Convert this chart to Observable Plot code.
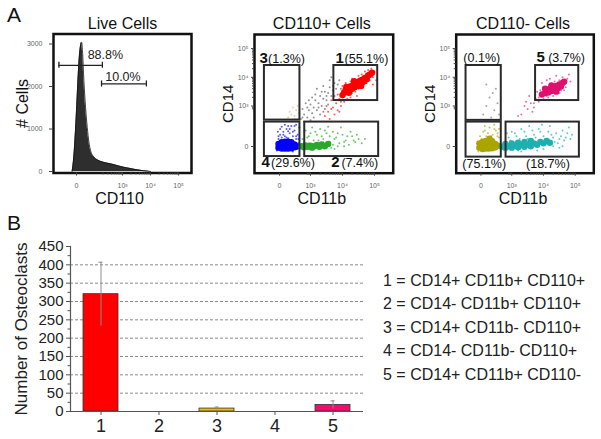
<!DOCTYPE html>
<html><head><meta charset="utf-8">
<script src="https://cdn.jsdelivr.net/npm/d3@7"></script>
<script src="https://cdn.jsdelivr.net/npm/@observablehq/plot@0.6"></script>
<style>
body{margin:0;background:#fff;}
#root{position:relative;width:601px;height:439px;overflow:hidden;background:#fff;font-family:"Liberation Sans",Arial,sans-serif;color:#222;}
#root > *{position:absolute;}
.plabel{font-size:21px;line-height:21px;color:#111;}
.legend{font-size:16px;line-height:23.5px;color:#222;white-space:nowrap;}
</style></head><body><div id="root"></div>
<script>
// ---------------- DATA ----------------
// Panel A, live cells: CD110 histogram [CD110 (display decades), # cells]
const histCD110 = [
 [1.20,0],[1.26,340],[1.32,960],[1.38,1750],[1.44,2530],[1.50,2960],[1.54,3040],[1.57,2840],
 [1.62,2140],[1.68,1510],[1.74,1040],[1.80,690],[1.86,490],[1.98,340],[2.10,275],[2.21,240],
 [2.39,205],[2.57,180],[2.81,140],[3.05,100],[3.29,70],[3.52,40],[3.76,16],[4.0,0]
];
const histGates = [
 {label:"88.8%", x1:0.73, x2:2.28, y:2500},
 {label:"10.0%", x1:2.25, x2:3.85, y:2060}
];
const histXTicks = [1.357, 3, 4, 5];
const histYTicks = [0, 1000, 2000, 3000];
const flowXTicks = [2.03, 3, 4, 5];
const flowYTicks = [1.59, 3, 4, 5];
const flowTickLabels = ["0", "10³", "10⁴", "10⁵"];

// CD110+ cells: [CD11b, CD14] in display decades
const posRedCore = [[4.05,3.47],[4.1,3.56],[4.15,3.5],[4.2,3.6],[4.25,3.68],[4.3,3.6],[4.32,3.72],[4.38,3.65],[4.4,3.78],[4.45,3.7],[4.48,3.84],[4.52,3.76],[4.55,3.88],[4.6,3.8],[4.62,3.92],[4.68,3.86],[4.7,3.98],[4.76,3.94],[4.8,4.06],[4.86,4.1],[4.92,4.16],[4.2,3.46],[4.36,3.86],[4.58,3.7],[4.0,3.38],[4.12,3.66]];
const posRedSparse = [[3.45,2.65],[3.55,2.8],[3.6,2.55],[3.7,2.95],[3.75,2.7],[3.8,3.1],[3.85,2.85],[3.9,3.25],[3.95,3.0],[4.0,3.3],[4.05,3.15],[4.1,3.4],[4.15,3.25],[4.2,3.38],[4.3,3.45],[4.4,3.5],[4.5,3.6],[4.6,3.65],[4.75,3.8],[4.85,3.9],[4.95,4.0],[5.0,4.2],[4.9,4.3],[4.7,4.2],[4.5,4.05],[4.3,3.95],[4.1,3.8],[3.95,3.6],[3.85,3.4],[3.65,3.2],[3.5,3.0],[4.0,3.7],[4.25,3.85],[4.6,4.1],[4.8,4.25],[5.05,3.9],[4.95,3.75],[4.45,3.35],[3.9,2.8],[3.75,3.35],[4.2,3.75],[4.35,3.55],[4.65,3.75],[4.8,3.95],[4.9,4.05],[4.55,3.95],[4.25,3.3],[3.95,3.15],[4.05,3.5],[3.65,2.9]];
const posGray = [[2.7,2.55],[2.8,2.7],[2.75,2.9],[2.9,2.6],[2.95,2.85],[3.0,3.05],[3.05,2.75],[3.1,2.95],[3.15,3.2],[3.2,2.85],[3.25,3.1],[3.3,3.35],[3.35,3.0],[3.4,3.25],[3.45,3.5],[3.5,3.2],[3.55,3.45],[3.6,3.65],[3.65,3.35],[3.7,3.55],[3.75,3.8],[3.8,3.6],[3.3,2.7],[3.0,2.5],[2.85,3.1],[3.15,3.4],[3.4,3.7],[3.6,3.9],[2.65,2.75],[3.45,2.9],[3.9,3.9],[3.05,3.3],[2.75,2.6],[2.9,2.95],[3.1,2.6],[3.25,2.95],[3.35,3.5],[3.5,3.35],[3.55,3.05],[3.7,3.7],[3.85,3.75],[2.95,3.2],[3.2,3.6],[3.65,4.0],[2.8,2.45],[3.4,2.8]];
const posTan = [[2.3,2.6],[2.4,2.7],[2.5,2.65],[2.55,2.85],[2.45,2.95],[2.6,2.55],[2.35,2.8],[2.6,3.0],[2.5,2.55],[2.65,2.7]];
const posBlueCore = [[2.0,1.55],[2.0,1.68],[2.1,1.52],[2.1,1.62],[2.1,1.74],[2.2,1.52],[2.2,1.63],[2.2,1.76],[2.3,1.52],[2.3,1.63],[2.3,1.76],[2.4,1.53],[2.4,1.64],[2.4,1.74],[2.5,1.56],[2.5,1.66],[2.56,1.6]];
const posBlueSparse = [[2.0,1.85],[2.05,2.0],[2.1,1.9],[2.15,2.1],[2.2,1.95],[2.25,2.2],[2.3,1.88],[2.35,2.05],[2.4,2.3],[2.45,1.95],[2.5,2.15],[2.55,1.85],[2.6,2.0],[2.62,1.7],[2.65,2.25],[1.95,1.45],[2.45,1.42],[2.2,2.35],[2.1,2.28],[2.3,2.12],[1.98,2.1],[2.55,2.35],[2.6,1.5],[2.0,1.95],[2.15,2.0],[2.25,1.9],[2.35,2.2],[2.45,2.1],[2.55,1.95],[2.05,2.2],[2.5,2.3],[2.62,1.85],[2.3,2.3]];
const posGreenCore = [[2.72,1.6],[2.8,1.56],[2.85,1.63],[2.92,1.58],[3.0,1.62],[3.05,1.55],[3.12,1.6],[3.2,1.64],[3.28,1.58],[3.35,1.66],[3.45,1.6],[3.55,1.68]];
const posGreenSparse = [[2.8,1.75],[2.9,1.9],[3.0,2.05],[3.1,1.8],[3.2,2.0],[3.3,2.2],[3.4,1.85],[3.5,2.05],[3.6,1.75],[3.7,2.1],[3.8,1.9],[3.9,1.7],[4.0,2.0],[4.1,1.8],[4.2,1.65],[4.3,1.95],[4.4,1.75],[4.5,1.85],[3.65,1.55],[3.85,1.6],[3.25,1.8],[3.05,2.25],[3.55,2.28],[3.95,2.25],[4.25,2.1],[3.75,1.5],[4.6,1.7],[2.95,1.7],[2.75,1.85],[2.85,2.15],[2.95,1.95],[3.15,2.1],[3.35,1.95],[3.45,2.15],[3.6,1.95],[3.75,1.85],[3.85,2.05],[4.05,1.75],[4.15,1.95],[4.35,1.8],[4.45,2.0],[3.15,1.7],[3.4,1.72],[3.7,1.65],[4.05,1.6],[4.7,1.85]];
const posGates = [
 {id:"1", pct:"(55.1%)", x1:3.73, x2:5.10, y1:3.19, y2:4.41},
 {id:"2", pct:"(7.4%)",  x1:2.82, x2:5.13, y1:1.24, y2:2.44},
 {id:"3", pct:"(1.3%)",  x1:1.56, x2:2.67, y1:2.51, y2:4.41},
 {id:"4", pct:"(29.6%)", x1:1.56, x2:2.67, y1:1.24, y2:2.44}
];

// CD110- cells
const negMagentaCore = [[3.95,3.4],[4.05,3.45],[4.1,3.55],[4.15,3.47],[4.2,3.6],[4.25,3.52],[4.3,3.65],[4.35,3.57],[4.4,3.7],[4.45,3.62],[4.5,3.75],[4.55,3.68],[4.6,3.8],[4.25,3.72],[4.4,3.5],[4.05,3.6],[4.65,3.85]];
const negMagentaSparse = [[3.5,2.9],[3.6,3.1],[3.7,2.95],[3.75,3.25],[3.85,3.15],[3.9,3.55],[3.95,3.8],[4.0,3.25],[4.1,3.9],[4.2,3.95],[4.3,3.35],[4.4,4.05],[4.5,3.45],[4.6,4.0],[4.7,3.65],[4.75,3.95],[4.8,4.1],[4.65,3.55],[3.8,3.5],[4.15,3.3],[3.3,2.7],[3.4,3.0],[3.2,2.65],[3.55,3.35],[3.65,2.8],[4.85,3.85],[3.45,3.15],[4.0,3.65],[4.2,3.75],[4.35,3.85],[4.5,3.9],[4.7,3.8],[4.1,3.35],[4.3,3.45],[4.55,3.55],[3.85,3.3],[3.7,3.1]];
const negGray = [[2.1,2.7],[2.2,3.0],[2.3,3.3],[2.45,2.85],[2.5,3.6],[2.35,2.6],[2.55,3.1],[2.2,3.75],[2.6,2.7],[2.4,3.45]];
const negOliveCore = [[1.98,1.55],[1.98,1.7],[2.08,1.5],[2.08,1.62],[2.08,1.75],[2.18,1.52],[2.18,1.64],[2.18,1.78],[2.28,1.52],[2.28,1.65],[2.28,1.78],[2.38,1.53],[2.38,1.65],[2.38,1.77],[2.48,1.56],[2.48,1.68],[2.56,1.62],[2.3,1.86]];
const negOliveSparse = [[2.0,1.95],[2.1,2.1],[2.2,1.95],[2.3,2.25],[2.4,2.0],[2.5,2.15],[2.6,1.9],[2.15,2.3],[2.45,2.35],[1.95,1.42],[2.55,2.05],[2.05,1.85],[2.25,2.05],[2.35,1.95],[2.45,2.2],[2.55,1.95],[2.15,2.15],[2.6,2.2]];
const negTealCore = [[2.7,1.58],[2.8,1.55],[2.8,1.68],[2.9,1.6],[3.0,1.55],[3.0,1.7],[3.1,1.62],[3.2,1.56],[3.2,1.72],[3.3,1.64],[3.4,1.58],[3.4,1.75],[3.5,1.66],[3.6,1.6],[3.6,1.78],[3.7,1.7],[3.8,1.65],[3.9,1.75],[4.0,1.7],[4.1,1.78],[4.2,1.72]];
const negTealSparse = [[2.9,1.9],[3.0,2.1],[3.15,1.95],[3.3,2.2],[3.45,1.95],[3.55,2.3],[3.7,2.0],[3.85,2.2],[4.0,1.95],[4.15,2.1],[4.3,1.9],[4.4,2.05],[4.5,1.85],[4.6,2.15],[4.7,1.9],[4.8,2.25],[4.3,1.6],[4.45,1.7],[3.8,1.45],[3.3,1.42],[4.6,1.6],[4.9,2.0],[3.95,2.35],[2.85,2.05],[4.2,2.3],[2.95,1.8],[3.1,2.05],[3.25,1.85],[3.4,2.1],[3.5,1.85],[3.65,2.15],[3.75,1.9],[3.9,2.1],[4.05,1.85],[4.25,2.0],[4.35,1.75],[4.55,1.95],[4.65,1.8],[4.75,2.05],[4.85,1.85],[3.2,1.45],[4.0,1.5],[4.5,1.55]];
const negGates = [
 {id:"",  pct:"(0.1%)",  x1:1.56, x2:2.67, y1:2.50, y2:4.41},
 {id:"5", pct:"(3.7%)",  x1:3.75, x2:5.11, y1:3.19, y2:4.41},
 {id:"",  pct:"(75.1%)", x1:1.56, x2:2.67, y1:1.22, y2:2.44},
 {id:"",  pct:"(18.7%)", x1:2.82, x2:5.13, y1:1.22, y2:2.44}
];

// Panel B
const groups = ["1", "2", "3", "4", "5"];
const osteoclastMean = [320, 0, 8, 0, 18];
const osteoclastErr = [87, 0, 4, 0, 11];
const yMajorTicks = [0, 50, 100, 150, 200, 250, 300, 350, 400, 450];
const yGridTicks = [50, 100, 150, 200, 250, 300, 350, 400];
const legendLines = [
 "1 = CD14+ CD11b+ CD110+",
 "2 = CD14- CD11b+ CD110+",
 "3 = CD14+ CD11b- CD110+",
 "4 = CD14- CD11b- CD110+",
 "5 = CD14+ CD11b+ CD110-"
];

// ---------------- STYLES ----------------
const FONT = "Liberation Sans, Arial, sans-serif";
const barColors = ["#ff0000", "#ff0000", "#f2bd00", "#ff0000", "#ff0a6c"];
const root = document.getElementById("root");
function place(el, left, top) { el.style.left = left + "px"; el.style.top = top + "px"; root.appendChild(el); }
const baseStyle = {fontFamily: FONT, background: "transparent", overflow: "visible", color: "#222"};
const minorDecades = [];
[2, 3, 4].forEach(d => [2,3,4,5,6,7,8,9].forEach(k => minorDecades.push(d + Math.log10(k))));
const lab = (ticks, labels) => d => labels[ticks.indexOf(d)];

// ---------------- HISTOGRAM ----------------
const hist = Plot.plot({
  width: 200, height: 210, marginLeft: 53, marginRight: 9, marginTop: 33.5, marginBottom: 37.5,
  x: {domain: [0.536, 5.46], label: null},
  y: {domain: [-35, 3236], label: null},
  style: baseStyle,
  marks: [
    Plot.areaY(histCD110, {x: d => d[0], y: d => d[1], fill: "#2e2e2e", curve: "monotone-x"}),
    Plot.lineY(histCD110, {x: d => d[0], y: d => d[1], stroke: "#111", strokeWidth: 0.8, curve: "monotone-x"}),
    Plot.ruleY(histGates, {y: "y", x1: "x1", x2: "x2", stroke: "#222", strokeWidth: 1.3}),
    Plot.ruleX(histGates, {x: "x1", y1: "y", y2: "y", insetTop: -3, insetBottom: -3, stroke: "#222", strokeWidth: 1.3}),
    Plot.ruleX(histGates, {x: "x2", y1: "y", y2: "y", insetTop: -3, insetBottom: -3, stroke: "#222", strokeWidth: 1.3}),
    Plot.text(histGates.slice(0, 1), {x: "x2", y: "y", text: "label", dx: 3, dy: -6, lineAnchor: "bottom", fontSize: 12.5, fill: "#222"}),
    Plot.text(histGates.slice(1), {x: d => (d.x1 + d.x2) / 2, y: "y", text: "label", dx: -1, dy: -2.6, lineAnchor: "bottom", fontSize: 12.5, fill: "#222"}),
    Plot.frame({stroke: "#111", strokeWidth: 2.5}),
    Plot.axisX({ticks: histXTicks, tickFormat: lab(histXTicks, flowTickLabels), tickSize: 3, tickPadding: 7.5, fontSize: 7, fill: "#666", stroke: "#444", label: null}),
    Plot.axisX({ticks: minorDecades.map(d => d), tickFormat: () => "", tickSize: 2, stroke: "#444", label: null}),
    Plot.axisY({ticks: histYTicks, tickFormat: d => String(d), tickSize: 4, tickPadding: 7, fontSize: 7, fill: "#666", stroke: "#444", label: null}),
    Plot.text(["Live Cells"], {text: d => d, frameAnchor: "top", dy: -5, lineAnchor: "bottom", fontSize: 16, fill: "#111"}),
    Plot.text(["CD110"], {text: d => d, frameAnchor: "bottom", dx: -3, dy: 30.5, lineAnchor: "bottom", fontSize: 16, fill: "#111"}),
    Plot.text(["# Cells"], {text: d => d, frameAnchor: "left", dx: -30.5, rotate: -90, textAnchor: "middle", lineAnchor: "middle", fontSize: 16, fill: "#111"})
  ]
});
place(hist, 0, 0);

// ---------------- FLOW DOT PLOTS ----------------
function flowPlot(cfg) {
  const marks = [];
  cfg.sparse.forEach(p => marks.push(Plot.dot(p.data, {x: d => d[0], y: d => d[1], r: 1.0, fill: p.color, fillOpacity: 0.75})));
  cfg.core.forEach(p => marks.push(Plot.dot(p.data, {x: d => d[0], y: d => d[1], r: 3.2, fill: p.color})));
  marks.push(
    Plot.rect(cfg.gates, {x1: "x1", x2: "x2", y1: "y1", y2: "y2", fill: "none", stroke: "#2a2a2a", strokeWidth: 2}),
    Plot.frame({stroke: "#111", strokeWidth: 2.5}),
    Plot.axisX({ticks: flowXTicks, tickFormat: lab(flowXTicks, flowTickLabels), tickSize: 3, tickPadding: 7, fontSize: 7, fill: "#666", stroke: "#444", label: null}),
    Plot.axisX({ticks: minorDecades.filter(d => d > 2.9), tickFormat: () => "", tickSize: 2, stroke: "#444", label: null}),
    Plot.axisY({ticks: flowYTicks, tickFormat: lab(flowYTicks, flowTickLabels), tickSize: 3, tickPadding: 3, fontSize: 7, fill: "#666", stroke: "#444", label: null}),
    Plot.axisY({ticks: minorDecades.filter(d => d > 2.9), tickFormat: () => "", tickSize: 2, stroke: "#444", label: null}),
    Plot.text([cfg.title], {text: d => d, frameAnchor: "top", dx: -2, dy: -5.7, lineAnchor: "bottom", fontSize: 16, fill: "#111"}),
    Plot.text(["CD11b"], {text: d => d, frameAnchor: "bottom", dx: -2, dy: 30.3, lineAnchor: "bottom", fontSize: 16, fill: "#111"}),
    Plot.text(["CD14"], {text: d => d, frameAnchor: "left", dx: -26, rotate: -90, textAnchor: "middle", lineAnchor: "middle", fontSize: 15, fill: "#111"})
  );
  cfg.labels.forEach(l => {
    const g = cfg.gates[l.gate];
    const yv = l.top ? g.y2 : g.y1;
    if (g.id) marks.push(Plot.text([g], {x: "x1", y: () => yv, text: "id", dx: l.ndx, dy: l.dy, textAnchor: "start", lineAnchor: "bottom", fontSize: 15, fontWeight: "bold", fill: "#111"}));
    marks.push(Plot.text([g], {x: "x1", y: () => yv, text: "pct", dx: l.pdx, dy: l.dy, textAnchor: "start", lineAnchor: "bottom", fontSize: 12.5, fill: "#111"}));
  });
  return Plot.plot({
    width: cfg.width, height: 210, marginLeft: cfg.ml, marginRight: cfg.mr, marginTop: 34, marginBottom: 37.3,
    x: {domain: [1.25, 5.584], label: null},
    y: {domain: [0.66, 5.49], label: null},
    style: baseStyle,
    marks
  });
}

const posPlot = flowPlot({
  width: 200, ml: 54, mr: 7.3, title: "CD110+ Cells", gates: posGates,
  sparse: [{data: posGray, color: "#6e6e6e"}, {data: posTan, color: "#e2c08e"}, {data: posRedSparse, color: "#ff2020"},
           {data: posBlueSparse, color: "#2020ff"}, {data: posGreenSparse, color: "#3cb23c"}],
  core: [{data: posRedCore, color: "#ff0000"}, {data: posBlueCore, color: "#0000ff"}, {data: posGreenCore, color: "#2aa82a"}],
  labels: [
    {gate: 0, top: true, ndx: 1.7, pdx: 10.7, dy: -2.4},
    {gate: 1, top: false, ndx: 26.4, pdx: 36.7, dy: 10.7},
    {gate: 2, top: true, ndx: -5, pdx: 3.7, dy: -2.4},
    {gate: 3, top: false, ndx: -3, pdx: 6.7, dy: 10.7}
  ]
});
place(posPlot, 200, 0);

const negPlot = flowPlot({
  width: 201, ml: 55.7, mr: 7.7, title: "CD110- Cells", gates: negGates,
  sparse: [{data: negGray, color: "#8a8a8a"}, {data: negMagentaSparse, color: "#e0408a"}, {data: negOliveSparse, color: "#b5b030"},
           {data: negTealSparse, color: "#2bb8b8"}],
  core: [{data: negMagentaCore, color: "#e0106e"}, {data: negOliveCore, color: "#aaa400"}, {data: negTealCore, color: "#1eb0b0"}],
  labels: [
    {gate: 0, top: true, ndx: 0, pdx: -2.7, dy: -3.3},
    {gate: 1, top: true, ndx: 1, pdx: 12.6, dy: -3.3},
    {gate: 2, top: false, ndx: 0, pdx: -3.7, dy: 10.7},
    {gate: 3, top: false, ndx: 0, pdx: 20, dy: 10.7}
  ]
});
place(negPlot, 400, 0);

// ---------------- BAR CHART ----------------
const rows = groups.map((g, i) => ({group: g, value: osteoclastMean[i], err: osteoclastErr[i]}));
const withErr = rows.filter(r => r.err > 0);
const bar = Plot.plot({
  width: 370, height: 209, marginLeft: 70, marginRight: 7, marginTop: 16, marginBottom: 28,
  x: {type: "band", domain: groups, paddingInner: 0.4, paddingOuter: 0.2, align: 0.5, label: null},
  y: {domain: [0, 450], label: null},
  color: {domain: groups, range: barColors},
  style: baseStyle,
  marks: [
    Plot.gridY({ticks: yGridTicks, stroke: "#8a8a8a", strokeOpacity: 1, strokeDasharray: "3,2"}),
    Plot.barY(rows.filter(r => r.value > 0), {x: "group", y: "value", fill: "group", stroke: "#333", strokeWidth: 0.8}),
    Plot.ruleX(withErr, {x: "group", y1: r => r.value - r.err, y2: r => r.value + r.err, stroke: "#8c8c8c", strokeWidth: 1}),
    Plot.tickY(withErr, {x: "group", y: r => r.value + r.err, insetLeft: 15.5, insetRight: 15.5, stroke: "#8c8c8c", strokeWidth: 1}),
    Plot.ruleY([0], {stroke: "#555", strokeWidth: 1.2}),
    Plot.frame({anchor: "left", stroke: "#555", strokeWidth: 1.2}),
    Plot.axisY({ticks: yMajorTicks, tickSize: 4, tickPadding: 3, fontSize: 15, fill: "#222", stroke: "#555", label: null}),
    Plot.axisY({ticks: d3.range(25, 450, 50), tickFormat: () => "", tickSize: 2.5, stroke: "#555", label: null}),
    Plot.axisX({tickSize: 4, tickPadding: 3.5, fontSize: 18, fill: "#222", stroke: "#555", label: null}),
    Plot.text(["Number of Osteoclasts"], {text: d => d, frameAnchor: "left", dx: -49, rotate: -90, textAnchor: "middle", lineAnchor: "middle", fontSize: 17, fill: "#222"})
  ]
});
place(bar, 0, 230);

// ---------------- HTML TEXT ----------------
const A = document.createElement("div"); A.className = "plabel"; A.textContent = "A"; place(A, 7, 4);
const B = document.createElement("div"); B.className = "plabel"; B.textContent = "B"; place(B, 7, 212);
const leg = document.createElement("div"); leg.className = "legend";
legendLines.forEach(t => { const d = document.createElement("div"); d.textContent = t; leg.appendChild(d); });
place(leg, 383, 268.7);
</script></body></html>
